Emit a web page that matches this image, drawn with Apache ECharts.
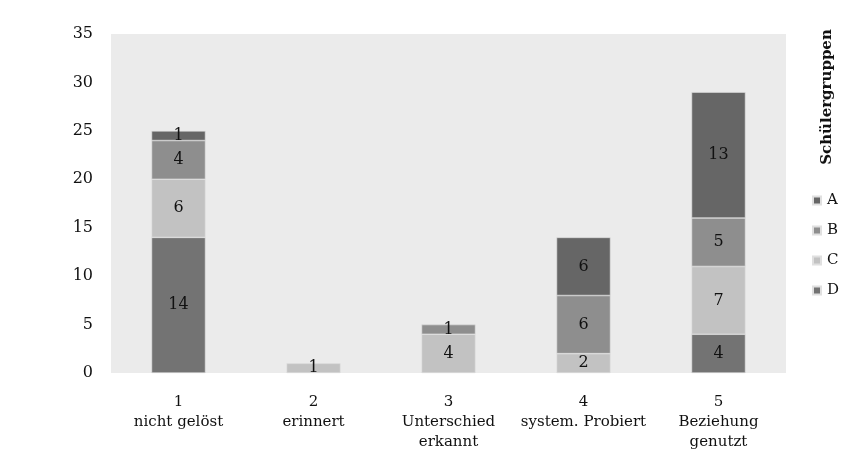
<!DOCTYPE html>
<html>
<head>
<meta charset="utf-8">
<script src="https://cdn.jsdelivr.net/npm/echarts@6/dist/echarts.min.js"></script>
<style>
  html, body { margin: 0; padding: 0; background: #fff; }
  #chart { width: 842px; height: 453px; }
</style>
</head>
<body>
<div id="chart"></div>
<script>
const categories = ['1\nnicht gelöst', '2\nerinnert', '3\nUnterschied\nerkannt', '4\nsystem. Probiert', '5\nBeziehung\ngenutzt'];
const groupA = [1, null, null, 6, 13];
const groupB = [4, null, 1, 6, 5];
const groupC = [6, 1, 4, 2, 7];
const groupD = [14, null, null, null, 4];
const yTicks = [0, 5, 10, 15, 20, 25, 30, 35];

const font = 'DejaVu Serif';
const colors = { A: '#666666', B: '#8e8e8e', C: '#c2c2c2', D: '#737373' };

const myChart = echarts.init(document.getElementById('chart'));

// gestapelt: D unten, dann C, B, A oben
const mkSeries = (name, data) => ({
    name: name,
    type: 'bar',
    stack: 'total',
    data: data,
    barWidth: 54,
    itemStyle: { color: colors[name], borderColor: '#e0e0e0', borderWidth: 0.6 },
    label: {
        show: true,
        position: 'inside',
        color: '#111',
        fontFamily: font,
        fontSize: 16
    }
});

myChart.setOption({
    animation: false,
    grid: {
        left: 111, right: 56, top: 34, bottom: 80,
        show: true, backgroundColor: '#ebebeb', borderWidth: 0
    },
    xAxis: {
        type: 'category',
        data: categories,
        axisLine: { show: false },
        axisTick: { show: false },
        axisLabel: {
            color: '#111', fontFamily: font, fontSize: 15,
            lineHeight: 20, margin: 19, interval: 0
        }
    },
    yAxis: {
        type: 'value',
        min: yTicks[0],
        max: yTicks[yTicks.length - 1],
        interval: 5,
        splitLine: { show: false },
        axisLine: { show: false },
        axisTick: { show: false },
        axisLabel: { color: '#111', fontFamily: font, fontSize: 16, margin: 18 }
    },
    legend: {
        orient: 'vertical',
        left: 807,
        top: 188,
        itemWidth: 8,
        itemHeight: 8,
        itemGap: 15,
        icon: 'rect',
        data: ['A', 'B', 'C', 'D'],
        textStyle: { color: '#111', fontFamily: font, fontSize: 15, padding: [0, 0, 0, 1] }
    },
    graphic: [{
        type: 'text',
        x: 827,
        y: 97,
        rotation: Math.PI / 2,
        style: {
            text: 'Schülergruppen',
            fill: '#111',
            font: 'bold 15px "DejaVu Serif"',
            align: 'center',
            verticalAlign: 'middle'
        }
    }],
    series: [
        mkSeries('D', groupD),
        mkSeries('C', groupC),
        mkSeries('B', groupB),
        mkSeries('A', groupA)
    ]
});
</script>
</body>
</html>
